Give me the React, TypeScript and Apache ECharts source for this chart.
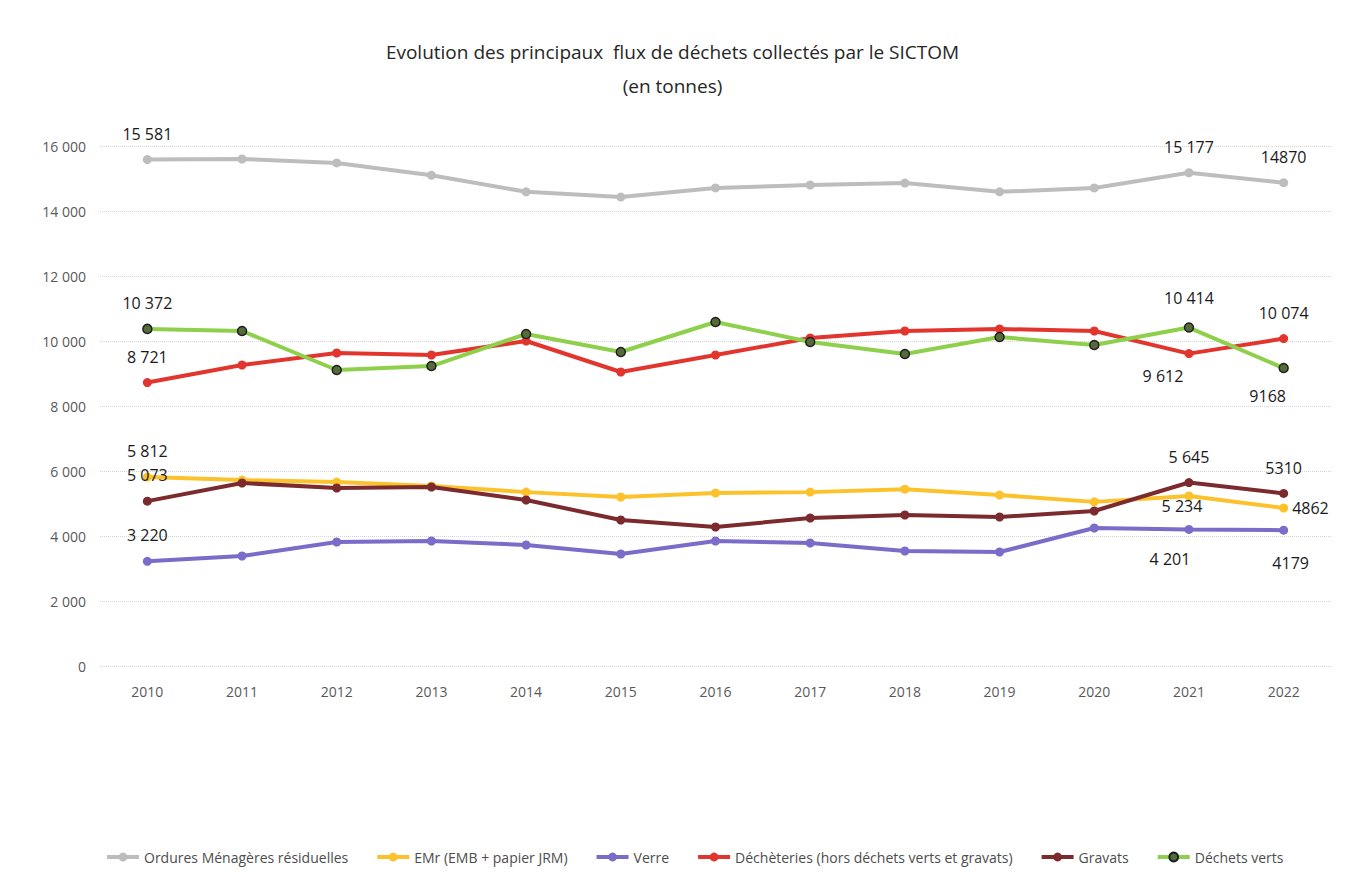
import React, { useEffect, useRef } from "react";
import * as echarts from "echarts";

const years = ["2010", "2011", "2012", "2013", "2014", "2015", "2016", "2017", "2018", "2019", "2020", "2021", "2022"];
const omr = [15581, 15600, 15480, 15100, 14590, 14430, 14710, 14800, 14860, 14590, 14710, 15177, 14870];
const emr = [5812, 5720, 5660, 5540, 5350, 5200, 5320, 5350, 5440, 5260, 5050, 5234, 4862];
const verre = [3220, 3385, 3815, 3846, 3723, 3446, 3846, 3785, 3538, 3508, 4246, 4201, 4179];
const decheteries = [8721, 9262, 9631, 9569, 10000, 9046, 9569, 10092, 10308, 10369, 10308, 9612, 10074];
const gravats = [5073, 5631, 5477, 5508, 5108, 4492, 4277, 4554, 4646, 4585, 4769, 5645, 5310];
const vertsDechets = [10372, 10308, 9108, 9230, 10215, 9662, 10585, 9969, 9600, 10123, 9877, 10414, 9168];
const yTicks = [0, 2000, 4000, 6000, 8000, 10000, 12000, 14000, 16000];

const seriesNames = [
  "Ordures Ménagères résiduelles",
  "EMr (EMB + papier JRM)",
  "Verre",
  "Déchèteries (hors déchets verts et gravats)",
  "Gravats",
  "Déchets verts",
];

const FONT = "'Open Sans', 'Noto Sans', sans-serif";

type LabelSpec = { i: number; pos: string; dist: number; dx?: number; plain?: boolean };

function fmt(v: number, plain?: boolean) {
  if (plain) return String(v);
  const s = String(v);
  return s.length > 3 ? s.slice(0, s.length - 3) + " " + s.slice(-3) : s;
}

function buildData(values: number[], specs: LabelSpec[]) {
  return values.map((v, i) => {
    const sp = specs.find((s) => s.i === i);
    if (!sp) return { value: v };
    return {
      value: v,
      label: {
        show: true,
        position: sp.pos,
        distance: sp.dist,
        offset: [sp.dx || 0, 0],
        formatter: () => fmt(v, sp.plain),
        fontFamily: FONT,
        fontSize: 16,
        color: "#1a1a1a",
      },
    };
  });
}

export default function App() {
  const ref = useRef<HTMLDivElement>(null);
  useEffect(() => {
    document.body.style.margin = "0";
    const chart = echarts.init(ref.current!, null, { renderer: "svg" });
    const mk = (
      idx: number,
      values: number[],
      color: string,
      specs: LabelSpec[],
      symbolColor?: string,
      symbolBorder?: string
    ) => ({
      name: seriesNames[idx],
      type: "line",
      data: buildData(values, specs),
      symbol: "circle",
      symbolSize: 9,
      showSymbol: true,
      lineStyle: { color, width: 4 },
      itemStyle: {
        color: symbolColor || color,
        borderColor: symbolBorder || color,
        borderWidth: symbolBorder ? 1.5 : 0,
      },
      label: { show: false },
      z: 2 + idx,
    });
    chart.setOption({
      animation: false,
      backgroundColor: "#ffffff",
      title: {
        text: "Evolution des principaux  flux de déchets collectés par le SICTOM\n(en tonnes)",
        left: "center",
        top: 30,
        textStyle: {
          fontFamily: FONT,
          fontSize: 19,
          fontWeight: 500,
          color: "#262626",
          lineHeight: 34,
        },
      },
      legend: {
        bottom: 22,
        left: 100,
        itemWidth: 32,
        itemHeight: 11,
        itemGap: 27,
        lineStyle: { width: 4 },
        textStyle: { fontFamily: FONT, fontSize: 14, color: "#4d4d4d" },
        data: seriesNames,
      },
      grid: { left: 100, right: 14, top: 146, bottom: 225 },
      xAxis: {
        type: "category",
        data: years,
        boundaryGap: true,
        axisLine: { show: false },
        axisTick: { show: false },
        axisLabel: { fontFamily: FONT, fontSize: 14, color: "#595959", margin: 18 },
      },
      yAxis: {
        type: "value",
        min: yTicks[0],
        max: yTicks[yTicks.length - 1],
        interval: 2000,
        axisLine: { show: false },
        axisTick: { show: false },
        axisLabel: {
          fontFamily: FONT,
          fontSize: 14,
          color: "#595959",
          margin: 14,
          formatter: (v: number) => fmt(v),
        },
        splitLine: { lineStyle: { color: "#d6d6d6", type: "dotted", width: 1 } },
      },
      series: [
        mk(0, omr, "#bdbdbd", [
          { i: 0, pos: "top", dist: 13 },
          { i: 11, pos: "top", dist: 13 },
          { i: 12, pos: "top", dist: 13, plain: true },
        ]),
        mk(1, emr, "#fcc22c", [
          { i: 0, pos: "top", dist: 14 },
          { i: 11, pos: "bottom", dist: -2, dx: -7 },
          { i: 12, pos: "right", dist: 4, plain: true },
        ]),
        mk(2, verre, "#7a6cc8", [
          { i: 0, pos: "top", dist: 14 },
          { i: 11, pos: "bottom", dist: 17, dx: -19 },
          { i: 12, pos: "bottom", dist: 20, dx: 7, plain: true },
        ]),
        mk(3, decheteries, "#e2352e", [
          { i: 0, pos: "top", dist: 13 },
          { i: 11, pos: "bottom", dist: 10, dx: -26 },
          { i: 12, pos: "top", dist: 13 },
        ]),
        mk(4, gravats, "#7b2b2e", [
          { i: 0, pos: "top", dist: 14 },
          { i: 11, pos: "top", dist: 13 },
          { i: 12, pos: "top", dist: 13, plain: true },
        ]),
        mk(5, vertsDechets, "#8ed04b", [
          { i: 0, pos: "top", dist: 13 },
          { i: 11, pos: "top", dist: 16 },
          { i: 12, pos: "bottom", dist: 15, dx: -16, plain: true },
        ], "#566b3a", "#1f1f1f"),
      ],
    });
    return () => chart.dispose();
  }, []);
  return <div ref={ref} style={{ width: 1345, height: 891 }} />;
}
